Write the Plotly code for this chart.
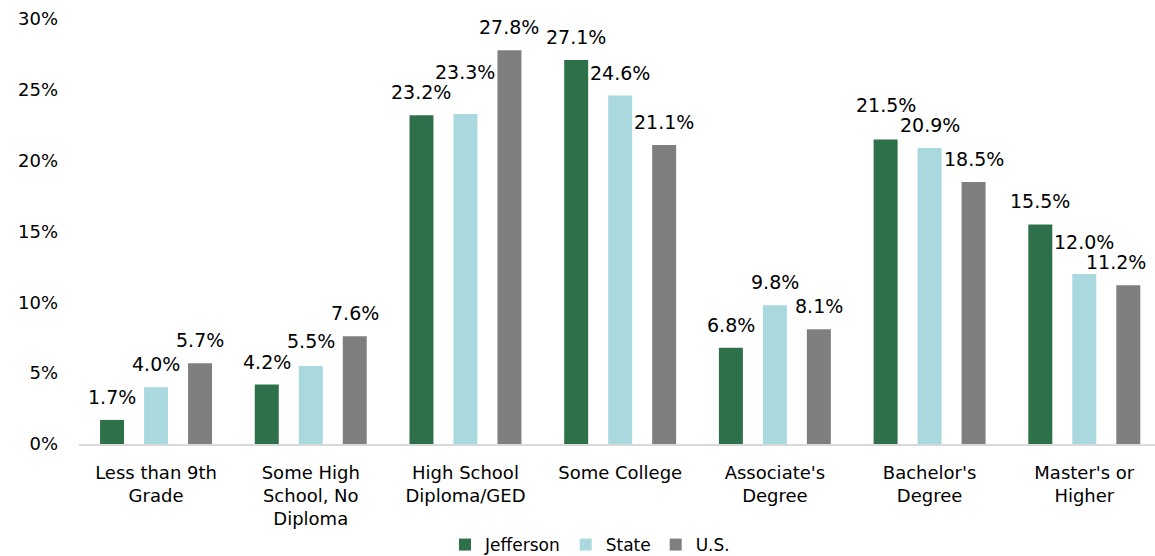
import plotly.graph_objects as go

categories = ["Less than 9th<br>Grade", "Some High<br>School, No<br>Diploma", "High School<br>Diploma/GED",
              "Some College", "Associate's<br>Degree", "Bachelor's<br>Degree", "Master's or<br>Higher"]
series_names = ["Jefferson", "State", "U.S."]
jefferson = [1.7, 4.2, 23.2, 27.1, 6.8, 21.5, 15.5]
state = [4.0, 5.5, 23.3, 24.6, 9.8, 20.9, 12.0]
us = [5.7, 7.6, 27.8, 21.1, 8.1, 18.5, 11.2]
y_ticks = [0, 5, 10, 15, 20, 25, 30]

colors = ["#2E7049", "#A9D9DF", "#7F7F7F"]
FONT = "DejaVu Sans, sans-serif"

W, H = 1155, 556
ML, MR, MT, MB = 79, 0, 19, 112
BARGAP, BARGROUPGAP = 0.147, 0.455
XR = [-0.498, 6.457]
YR = [0, 30]

series = [jefferson, state, us]
fig = go.Figure()
for name, vals, color in zip(series_names, series, colors):
    fig.add_trace(go.Bar(x=list(range(len(categories))), y=vals, name=name,
                         marker_color=color, marker_line_width=0))

# data labels: placed above each bar, nudged up when they collide with a neighbour
plot_w = W - ML - MR
plot_h = H - MT - MB
px_per_unit = plot_h / (YR[1] - YR[0])
px_per_cat = plot_w / (XR[1] - XR[0])
slot = (1 - BARGAP) / len(series)
base_shift, label_h, label_w = 23, 20, 62
for i in range(len(categories)):
    vals = [s[i] for s in series]
    order = sorted(range(len(series)), key=lambda k: vals[k])
    placed = {}
    for k in order:
        ypix = vals[k] * px_per_unit + base_shift
        moved = True
        while moved:
            moved = False
            for j, yj in placed.items():
                if abs(j - k) == 1 and abs(ypix - yj) < label_h:
                    ypix = yj + label_h
                    moved = True
        placed[k] = ypix
        xc = i + (k - 1) * slot
        xpix = ML + (xc - XR[0]) * px_per_cat
        xshift = min(0, (W - 8) - (xpix + label_w / 2))
        fig.add_annotation(x=xc, y=vals[k], xref="x", yref="y",
                           text=f"{vals[k]:.1f}%", showarrow=False,
                           yanchor="middle", xanchor="center",
                           yshift=ypix - vals[k] * px_per_unit, xshift=xshift,
                           font=dict(family=FONT, size=19, color="#000000"))

fig.update_layout(
    width=W, height=H,
    margin=dict(l=ML, r=MR, t=MT, b=MB, autoexpand=False),
    barmode="group", bargap=BARGAP, bargroupgap=BARGROUPGAP,
    plot_bgcolor="white", paper_bgcolor="white",
    font=dict(family=FONT, size=18, color="#000000"),
    legend=dict(orientation="h", x=(590 - ML) / plot_w, xanchor="center",
                y=-101 / plot_h, yanchor="middle",
                font=dict(size=17), traceorder="normal"),
    xaxis=dict(range=XR, tickvals=list(range(len(categories))), ticktext=categories,
               showline=True, linecolor="#D9D9D9", linewidth=2, ticks="",
               tickfont=dict(size=18), ticklabelstandoff=11, automargin=False),
    yaxis=dict(range=YR, tickvals=y_ticks, ticktext=[f"{t}%" for t in y_ticks],
               showgrid=False, zeroline=False, showline=False, tickfont=dict(size=18),
               ticklabelstandoff=20, automargin=False),
)

fig.write_html("out.html", config={"displayModeBar": False},
               post_script="document.body.style.margin='0';document.body.style.overflow='hidden';")
